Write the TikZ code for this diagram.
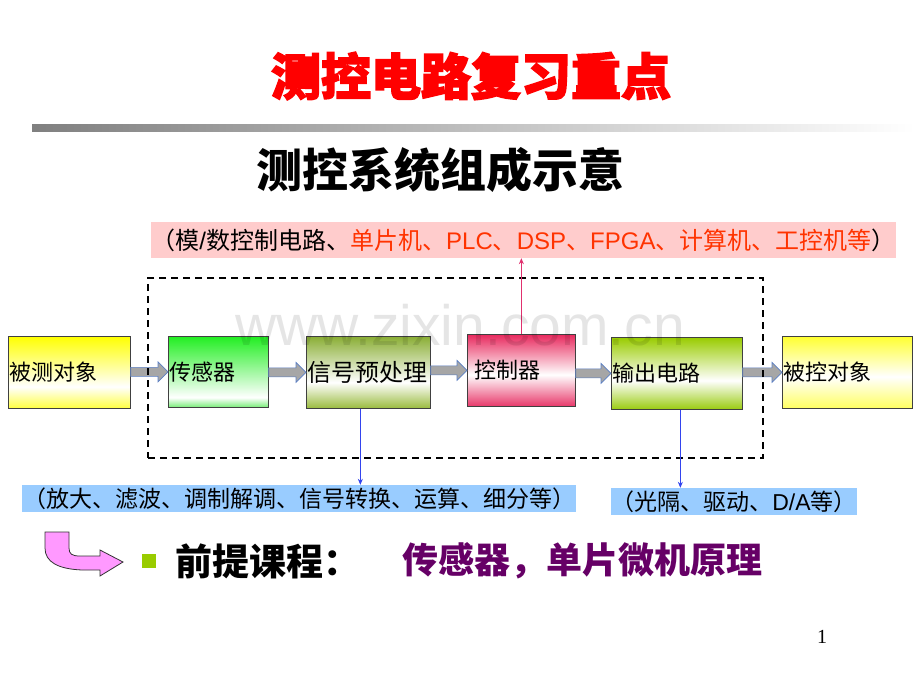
\documentclass[tikz,border=0pt]{standalone}
\usepackage{fontspec}
\setmainfont{Liberation Sans}
\newfontfamily\cjk{Noto Sans CJK SC}
\newfontfamily\cjktitle[FakeBold=3]{Noto Sans CJK SC}
\newfontfamily\lib{Liberation Sans}
\newfontfamily\libserif{Liberation Serif}
\usetikzlibrary{calc,arrows.meta}

\definecolor{yelT}{HTML}{FFFF00}
\definecolor{yelB}{HTML}{FFFF40}
\definecolor{yel2T}{HTML}{FFFF30}
\definecolor{yel2B}{HTML}{FFFF60}
\definecolor{grnT}{HTML}{22EE22}
\definecolor{grnB}{HTML}{77EE77}
\definecolor{olvT}{HTML}{8AAE35}
\definecolor{olvB}{HTML}{9ABB3E}
\definecolor{crmT}{HTML}{E82A5E}
\definecolor{crmB}{HTML}{E8386A}
\definecolor{ogT}{HTML}{99CC00}
\definecolor{ogB}{HTML}{9ACC10}
\definecolor{pinkbg}{HTML}{FFCCCC}
\definecolor{pinkred}{HTML}{FF3300}
\definecolor{bluebg}{HTML}{99CCFF}
\definecolor{arrgray}{HTML}{A6A6A6}
\definecolor{arrblue}{HTML}{5B7FC4}
\definecolor{pinkline}{HTML}{E0306E}
\definecolor{blueline}{HTML}{3344EE}
\definecolor{iconpink}{HTML}{FF99FF}
\definecolor{bulletgreen}{HTML}{99CC00}
\definecolor{purp}{HTML}{660066}

\pgfdeclareverticalshading{shA}{100bp}{color(0bp)=(yelB); color(25bp)=(yelB); color(40bp)=(white); color(75bp)=(yelT); color(100bp)=(yelT)}
\pgfdeclareverticalshading{shB}{100bp}{color(0bp)=(grnB); color(25bp)=(grnB); color(32bp)=(white); color(75bp)=(grnT); color(100bp)=(grnT)}
\pgfdeclareverticalshading{shC}{100bp}{color(0bp)=(olvB); color(25bp)=(olvB); color(43bp)=(white); color(75bp)=(olvT); color(100bp)=(olvT)}
\pgfdeclareverticalshading{shD}{100bp}{color(0bp)=(crmB); color(25bp)=(crmB); color(47bp)=(white); color(75bp)=(crmT); color(100bp)=(crmT)}
\pgfdeclareverticalshading{shE}{100bp}{color(0bp)=(ogB); color(25bp)=(ogB); color(45bp)=(white); color(75bp)=(ogT); color(100bp)=(ogT)}
\pgfdeclareverticalshading{shF}{100bp}{color(0bp)=(yel2B); color(25bp)=(yel2B); color(47bp)=(white); color(75bp)=(yel2T); color(100bp)=(yel2T)}

\newcommand\blockarrow[2]{\draw[barrow] let \p1=(#1.east), \p2=(#2.west) in
 (\x1,\y2+4.5pt) -- (\x2-10pt,\y2+4.5pt) -- (\x2-10pt,\y2+10pt) -- (\x2,\y2) --
 (\x2-10pt,\y2-10pt) -- (\x2-10pt,\y2-4.5pt) -- (\x1,\y2-4.5pt) -- cycle;}

\begin{document}
\begin{tikzpicture}[x=1pt,y=-1pt,
  box/.style={draw=black!75, line width=0.7pt, rectangle, shade, inner xsep=1.5pt, inner ysep=0pt,
    align=left, anchor=north west, font=\cjk\fontsize{22}{26}\selectfont},
  barrow/.style={fill=arrgray, draw=arrblue, line width=0.7pt},
  lbl/.style={inner sep=0pt, font=\cjk\fontsize{23}{26}\selectfont},
  tip/.style={-{Stealth[length=6pt,width=5pt]}},
]
\useasboundingbox (0,0) rectangle (920,690);

% title and bar
\node[text=red, inner sep=0pt, font=\cjktitle\bfseries\fontsize{50}{54}\selectfont] (T) at (471,76) {测控电路复习重点};
\shade[left color=black!50, right color=white] (32,125) rectangle (915,131);
\node[inner sep=0pt, font=\cjk\bfseries\fontsize{46}{50}\selectfont] (S) at (440,170) {测控系统组成示意};

% top label
\node[lbl, fill=pinkbg, minimum width=737pt, minimum height=36pt, font=\cjk\fontsize{24}{27}\selectfont] (P) at (523.5,240)
 {（模{\lib /}数控制电路、\textcolor{pinkred}{单片机、{\lib PLC}、{\lib DSP}、{\lib FPGA}、计算机、工控机等}）};

% boxes
\node[box, shading=shA, text width=119pt, minimum height=72pt] (A) at (8,336) {被测对象};
\node[box, shading=shB, text width=97pt, minimum height=71pt] (B) at (168,336) {传感器};
\node[box, shading=shC, text width=121pt, minimum height=72pt, font=\cjk\fontsize{24}{28}\selectfont] (C) at (306,336) {信号预处理};
\node[box, shading=shD, inner xsep=7pt, text width=94pt, minimum height=72pt] (D) at (467,334) {控制器};
\node[box, shading=shE, text width=128pt, minimum height=72pt] (E) at (611,337) {输出电路};
\node[box, shading=shF, text width=127pt, minimum height=72pt] (F) at (782,336) {被控对象};

% block arrows
\blockarrow{A}{B}
\blockarrow{B}{C}
\blockarrow{C}{D}
\blockarrow{D}{E}
\blockarrow{E}{F}

% dashed system boundary
\node[draw=black, dash pattern=on 7pt off 5pt, line width=1.8pt, minimum width=615pt, minimum height=180pt, inner sep=0pt] (sys) at (455.5,368) {};

% bottom labels
\node[lbl, fill=bluebg, minimum width=554pt, minimum height=27pt] (L1) at (299,498.5) {（放大、滤波、调制解调、信号转换、运算、细分等）};
\node[lbl, fill=bluebg, minimum width=246pt, minimum height=27pt] (L2) at (734,501.5) {（光隔、驱动、{\lib D/A}等）};

% connectors
\draw[pinkline, line width=1.2pt, tip] (D.north) -- (D.north |- P.south);
\coordinate (c1) at ([xshift=-8pt]C.south);
\coordinate (e1) at ([xshift=3.5pt]E.south);
\draw[blueline, line width=0.8pt, tip] (c1) -- (c1 |- L1.north);
\draw[blueline, line width=0.8pt, tip] (e1) -- (e1 |- L2.north);

% bottom line
\draw[fill=iconpink, draw=black!80, line width=0.8pt] (45,532) -- (69,532) -- (69,548)
  .. controls (69,554) and (72,556) .. (80,556) -- (100,556) -- (100,550) -- (123,562)
  -- (100,576) -- (100,570) -- (82,570) .. controls (58,569) and (45,562) .. (45,548) -- cycle;
\node[rectangle, fill=bulletgreen, minimum size=14pt, inner sep=0pt] (bul) at (149,561) {};
\node[anchor=west, inner sep=0pt, font=\cjk\bfseries\fontsize{37}{40}\selectfont] (pre) at (175,561) {前提课程：};
\node[anchor=west, inner sep=0pt, text=purp, font=\cjk\bfseries\fontsize{36}{40}\selectfont] (course) at (402,561) {传感器，单片微机原理};

% page number
\node[inner sep=0pt, font=\libserif\fontsize{20}{22}\selectfont] (pg) at (822,637) {1};

% watermark
\node[text=black, text opacity=0.1, anchor=base, inner sep=0pt, font=\lib\fontsize{57}{60}\selectfont] (wm) at (460,345) {www.zixin.com.cn};
\end{tikzpicture}
\end{document}
